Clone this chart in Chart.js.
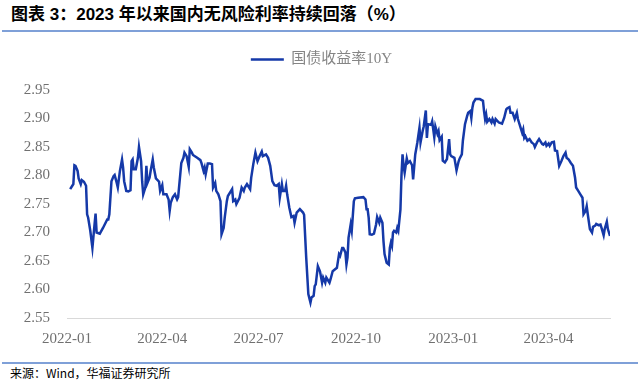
<!DOCTYPE html>
<html><head><meta charset="utf-8">
<script src="https://cdn.jsdelivr.net/npm/chart.js@4.4.0/dist/chart.umd.min.js"></script>
<style>
html,body{margin:0;padding:0;background:#fff;width:640px;height:382px;overflow:hidden;position:relative}
#title{position:absolute;left:11px;top:5px;font:bold 17px "Liberation Sans","Noto Sans CJK SC",sans-serif;color:#000;line-height:20px;white-space:nowrap}
#topline{position:absolute;left:2px;width:636px;top:30px;height:2px;background:#7fa0d8}
#botline{position:absolute;left:2px;width:636px;top:362px;height:2px;background:#7fa0d8}
#source{position:absolute;left:10px;top:365px;font:12px "Noto Sans CJK SC",sans-serif;line-height:16px;color:#000}
#wrap{position:absolute;left:0;top:28px;width:640px;height:332px}
</style></head>
<body>
<div id="title">图表 3：2023 年以来国内无风险利率持续回落（%）</div>
<div id="topline"></div>
<div id="wrap"><canvas id="c" width="640" height="332"></canvas></div>
<div id="botline"></div>
<div id="source">来源：Wind，华福证券研究所</div>
<script>
const seriesName = '国债收益率10Y';
const dates = [
'2022-01-04','2022-01-06','2022-01-07','2022-01-08','2022-01-09','2022-01-11','2022-01-12','2022-01-14','2022-01-15','2022-01-17',
'2022-01-19','2022-01-20','2022-01-21','2022-01-23','2022-01-25','2022-01-27','2022-01-28','2022-01-29','2022-02-01','2022-02-04',
'2022-02-08','2022-02-09','2022-02-10','2022-02-12','2022-02-14','2022-02-15','2022-02-17','2022-02-18','2022-02-20','2022-02-22',
'2022-02-23','2022-02-24','2022-02-26','2022-02-28','2022-03-02','2022-03-03','2022-03-04','2022-03-05','2022-03-07','2022-03-09',
'2022-03-10','2022-03-12','2022-03-13','2022-03-14','2022-03-16','2022-03-17','2022-03-18','2022-03-20','2022-03-21','2022-03-23',
'2022-03-24','2022-03-26','2022-03-29','2022-03-30','2022-04-01','2022-04-02','2022-04-05','2022-04-07','2022-04-08','2022-04-09',
'2022-04-11','2022-04-13','2022-04-15','2022-04-16','2022-04-18','2022-04-19','2022-04-21','2022-04-22','2022-04-24','2022-04-26',
'2022-04-27','2022-04-29','2022-04-30','2022-05-04','2022-05-07','2022-05-08','2022-05-10','2022-05-11','2022-05-12','2022-05-14',
'2022-05-16','2022-05-18','2022-05-19','2022-05-21','2022-05-22','2022-05-24','2022-05-26','2022-05-27','2022-05-29','2022-05-30',
'2022-06-01','2022-06-02','2022-06-06','2022-06-07','2022-06-09','2022-06-10','2022-06-13','2022-06-15','2022-06-17','2022-06-18',
'2022-06-20','2022-06-21','2022-06-23','2022-06-24','2022-06-26','2022-06-28','2022-06-30','2022-07-02','2022-07-04','2022-07-05',
'2022-07-08','2022-07-10','2022-07-12','2022-07-14','2022-07-16','2022-07-18','2022-07-20','2022-07-21','2022-07-23','2022-07-24',
'2022-07-26','2022-07-27','2022-07-28','2022-07-30','2022-08-01','2022-08-03','2022-08-04','2022-08-06','2022-08-09','2022-08-12',
'2022-08-13','2022-08-15','2022-08-17','2022-08-19','2022-08-20','2022-08-22','2022-08-23','2022-08-24','2022-08-26','2022-08-28',
'2022-08-30','2022-08-31','2022-09-02','2022-09-03','2022-09-06','2022-09-07','2022-09-09','2022-09-11','2022-09-13','2022-09-15',
'2022-09-16','2022-09-18','2022-09-19','2022-09-21','2022-09-22','2022-09-23','2022-09-24','2022-09-26','2022-09-27','2022-09-29',
'2022-09-30','2022-10-03','2022-10-08','2022-10-10','2022-10-11','2022-10-12','2022-10-13','2022-10-14','2022-10-16','2022-10-18',
'2022-10-20','2022-10-21','2022-10-23','2022-10-24','2022-10-26','2022-10-27','2022-10-28','2022-10-30','2022-11-01','2022-11-02',
'2022-11-03','2022-11-04','2022-11-05','2022-11-06','2022-11-08','2022-11-09','2022-11-10','2022-11-12','2022-11-13','2022-11-14',
'2022-11-15','2022-11-16','2022-11-18','2022-11-19','2022-11-21','2022-11-23','2022-11-24','2022-11-26','2022-11-28','2022-11-30',
'2022-12-01','2022-12-03','2022-12-04','2022-12-06','2022-12-07','2022-12-08','2022-12-11','2022-12-12','2022-12-14','2022-12-15',
'2022-12-17','2022-12-18','2022-12-19','2022-12-21','2022-12-22','2022-12-24','2022-12-26','2022-12-28','2022-12-29','2022-12-30',
'2023-01-02','2023-01-03','2023-01-04','2023-01-06','2023-01-07','2023-01-09','2023-01-10','2023-01-12','2023-01-14','2023-01-15',
'2023-01-17','2023-01-18','2023-01-19','2023-01-20','2023-01-22','2023-01-26','2023-01-29','2023-01-30','2023-01-31','2023-02-01',
'2023-02-02','2023-02-04','2023-02-06','2023-02-07','2023-02-09','2023-02-10','2023-02-13','2023-02-16','2023-02-18','2023-02-20',
'2023-02-21','2023-02-23','2023-02-24','2023-02-26','2023-02-28','2023-03-02','2023-03-03','2023-03-05','2023-03-07','2023-03-08',
'2023-03-09','2023-03-10','2023-03-12','2023-03-14','2023-03-16','2023-03-18','2023-03-19','2023-03-21','2023-03-23','2023-03-26',
'2023-03-27','2023-03-29','2023-03-30','2023-04-01','2023-04-02','2023-04-04','2023-04-06','2023-04-07','2023-04-09','2023-04-11',
'2023-04-13','2023-04-15','2023-04-17','2023-04-18','2023-04-20','2023-04-22','2023-04-24','2023-04-26','2023-04-27','2023-04-29',
'2023-05-01','2023-05-03','2023-05-04','2023-05-06','2023-05-07','2023-05-08','2023-05-10','2023-05-12','2023-05-13','2023-05-15',
'2023-05-16','2023-05-18','2023-05-20','2023-05-21','2023-05-23','2023-05-24','2023-05-26','2023-05-27','2023-05-29'
];
const yields = [
2.776,2.782,2.785,2.818,2.817,2.808,2.795,2.785,2.792,2.789,
2.782,2.732,2.726,2.703,2.673,2.714,2.733,2.700,2.698,2.708,
2.723,2.723,2.732,2.790,2.799,2.801,2.787,2.779,2.808,2.828,
2.814,2.790,2.773,2.772,2.774,2.825,2.828,2.811,2.811,2.831,
2.850,2.825,2.790,2.767,2.779,2.817,2.787,2.796,2.808,2.828,
2.814,2.795,2.789,2.773,2.783,2.767,2.767,2.758,2.738,2.752,
2.762,2.767,2.758,2.762,2.802,2.822,2.831,2.840,2.834,2.815,
2.846,2.840,2.836,2.831,2.827,2.822,2.808,2.814,2.802,2.821,
2.821,2.820,2.779,2.787,2.773,2.767,2.755,2.697,2.708,2.726,
2.755,2.764,2.776,2.755,2.758,2.750,2.761,2.779,2.773,2.779,
2.785,2.782,2.776,2.796,2.820,2.840,2.825,2.834,2.842,2.834,
2.837,2.831,2.817,2.790,2.783,2.782,2.785,2.761,2.785,2.773,
2.773,2.782,2.767,2.744,2.727,2.729,2.717,2.735,2.741,2.735,
2.731,2.656,2.592,2.577,2.586,2.589,2.606,2.609,2.641,2.632,
2.612,2.621,2.612,2.621,2.612,2.618,2.632,2.635,2.638,2.662,
2.659,2.673,2.673,2.665,2.644,2.656,2.691,2.714,2.703,2.755,
2.760,2.761,2.762,2.758,2.741,2.741,2.726,2.697,2.696,2.698,
2.714,2.727,2.717,2.726,2.717,2.685,2.662,2.647,2.644,2.673,
2.682,2.676,2.700,2.703,2.700,2.708,2.703,2.740,2.800,2.837,
2.817,2.805,2.830,2.822,2.825,2.818,2.793,2.837,2.858,2.884,
2.858,2.878,2.886,2.914,2.866,2.890,2.889,2.895,2.867,2.886,
2.873,2.878,2.862,2.868,2.826,2.823,2.829,2.864,2.837,2.834,
2.831,2.820,2.809,2.825,2.830,2.837,2.861,2.890,2.904,2.910,
2.913,2.901,2.919,2.928,2.934,2.934,2.931,2.913,2.899,2.907,
2.894,2.899,2.893,2.899,2.891,2.899,2.893,2.891,2.901,2.916,
2.918,2.920,2.910,2.910,2.899,2.910,2.899,2.887,2.875,2.881,
2.866,2.869,2.861,2.864,2.858,2.855,2.850,2.858,2.864,2.855,
2.854,2.858,2.852,2.856,2.852,2.858,2.859,2.844,2.843,2.817,
2.825,2.834,2.840,2.831,2.828,2.822,2.817,2.796,2.779,2.773,
2.767,2.761,2.732,2.738,2.746,2.732,2.706,2.700,2.710,2.712,
2.715,2.713,2.714,2.708,2.695,2.706,2.719,2.706,2.694
];
const xTickDates = ['2022-01-01','2022-04-01','2022-07-01','2022-10-01','2023-01-01','2023-04-01'];
const xTickLabels = ['2022-01','2022-04','2022-07','2022-10','2023-01','2023-04'];
const xEndDate = '2023-05-29';
const yTicks = [2.55,2.60,2.65,2.70,2.75,2.80,2.85,2.90,2.95];

const BASE = Date.UTC(2022,0,1);
function dayOf(s){const p=s.split('-').map(Number);return (Date.UTC(p[0],p[1]-1,p[2])-BASE)/86400000;}
const points = dates.map((d,i)=>({x:dayOf(d), y:yields[i]}));
const tickVals = xTickDates.map(dayOf);
const grayTxt = '#707070';

new Chart(document.getElementById('c'), {
  type:'line',
  data:{datasets:[{label:seriesName,data:points,borderColor:'#1539a8',backgroundColor:'#1539a8',borderWidth:2.5,pointRadius:0,tension:0,fill:false}]},
  options:{
    responsive:false,animation:false,devicePixelRatio:1,
    layout:{padding:{left:33,right:30,top:2,bottom:0}},
    plugins:{
      legend:{display:true,position:'top',labels:{usePointStyle:true,pointStyle:'line',pointStyleWidth:33,color:'#858585',font:{family:'"Liberation Serif","Noto Sans CJK SC",serif',size:15},padding:22}},
      title:{display:true,text:'',position:'top',weight:500,font:{size:10,lineHeight:1},padding:{top:3,bottom:0}},
      tooltip:{enabled:false}
    },
    scales:{
      x:{type:'linear',min:0,max:dayOf(xEndDate),
        grid:{display:false,drawTicks:false},
        border:{display:true,color:'#d9d9d9',width:1},
        afterBuildTicks:(ax)=>{ax.ticks=tickVals.map(v=>({value:v}));},
        ticks:{autoSkip:false,maxRotation:0,padding:12,color:grayTxt,font:{family:'"Liberation Serif",serif',size:15},
          callback:(v)=>{const i=tickVals.indexOf(v);return i>=0?xTickLabels[i]:'';}}
      },
      y:{min:2.55,max:2.95,
        grid:{display:false,drawTicks:false},
        border:{display:false},
        afterBuildTicks:(ax)=>{ax.ticks=yTicks.map(v=>({value:v}));},
        afterFit:(ax)=>{ax.width=34;ax._computeLabelArea=()=>null;},
        ticks:{padding:17,color:grayTxt,font:{family:'"Liberation Serif",serif',size:15},callback:(v)=>Number(v).toFixed(2)}
      }
    }
  }
});
</script>
</body></html>
